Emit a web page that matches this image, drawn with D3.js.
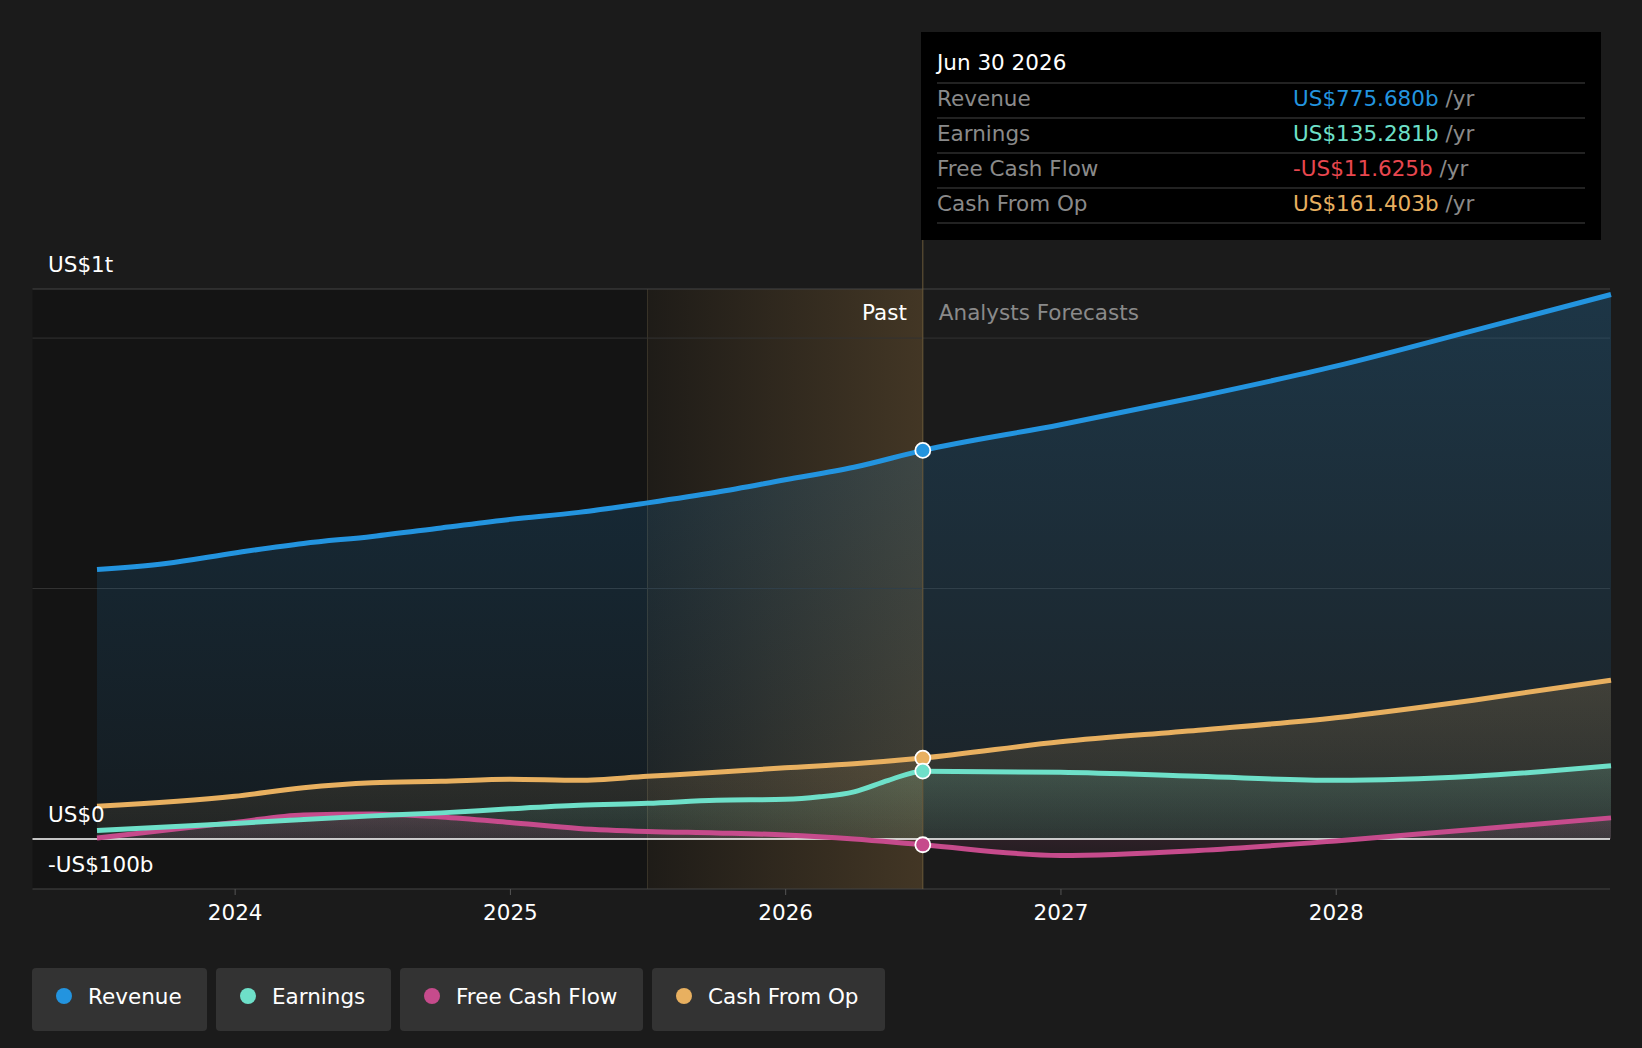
<!DOCTYPE html>
<html><head><meta charset="utf-8">
<script src="https://cdn.jsdelivr.net/npm/d3@7"></script>
<style>body{margin:0;background:#1b1b1b;font-family:"DejaVu Sans",sans-serif}</style>
</head><body><svg id="c" width="1642" height="1048"></svg>
<script>
// values in US$ billions, x as decimal years
const revenue = [[2023.5,538],[2023.75,550],[2024,571],[2024.25,590],[2024.5,604],[2024.75,621],[2025,638],[2025.25,652],[2025.5,671],[2025.75,692],[2026,717],[2026.25,742],[2026.5,775.68],[2027,827],[2027.5,883],[2028,944],[2028.5,1015],[2029,1087]];
const earnings = [[2023.5,17],[2024,31],[2024.5,46],[2024.75,52],[2025,60],[2025.25,67],[2025.5,71],[2025.75,77],[2026,79],[2026.125,84],[2026.25,94],[2026.375,117],[2026.5,135.281],[2027,133],[2027.5,125],[2028,117],[2028.5,125],[2029,146]];
const fcf = [[2023.5,2],[2024,33],[2024.25,48],[2024.5,50],[2024.75,44],[2025,33],[2025.25,21],[2025.5,15],[2025.75,12],[2026,8],[2026.25,0],[2026.5,-11.625],[2027,-33],[2027.5,-23],[2028,-4],[2028.5,19],[2029,42]];
const cfo = [[2023.5,65],[2024,85],[2024.25,102],[2024.5,112],[2024.75,115],[2025,119],[2025.25,117],[2025.5,125],[2025.75,133],[2026,142],[2026.25,150],[2026.5,161.403],[2027,194],[2027.5,217],[2028,242],[2028.5,277],[2029,317]];
const yearTicks = [2024,2025,2026,2027,2028];
const gridValues = [500,1000];
const series = [
  {name:"Revenue", data:revenue, color:"#2394df", tip:"US$775.680b"},
  {name:"Earnings", data:earnings, color:"#6ee0c9", tip:"US$135.281b"},
  {name:"Free Cash Flow", data:fcf, color:"#c64b8c", tip:"-US$11.625b", tipColor:"#e8474f"},
  {name:"Cash From Op", data:cfo, color:"#e8b060", tip:"US$161.403b"}
];
const nowX = 2026.5, bandStart = 2025.5;
const FS = 21.5;

const svg = d3.select("#c");
const x = d3.scaleLinear().domain([2023.5,2029]).range([97,1611]);
const y = d3.scaleLinear().domain([-100,1098]).range([889,289]);
const L = 32.5, R = 1610;

const defs = svg.append("defs");
const bg = defs.append("linearGradient").attr("id","band");
bg.append("stop").attr("offset","0").attr("stop-color","#e8b060").attr("stop-opacity",0.05);
bg.append("stop").attr("offset","1").attr("stop-color","#e8b060").attr("stop-opacity",0.22);
series.forEach((s,i) => {
  const g = defs.append("linearGradient").attr("id","a"+i).attr("x1",0).attr("x2",0).attr("y1",0).attr("y2",1);
  g.append("stop").attr("offset","0").attr("stop-color",s.color).attr("stop-opacity",i==0?0.22:0.18);
  g.append("stop").attr("offset","1").attr("stop-color",s.color).attr("stop-opacity",0.06);
});

// past shading
svg.append("rect").attr("x",L).attr("y",289).attr("width",x(nowX)-L).attr("height",600).attr("fill","#141414");
svg.append("rect").attr("x",x(bandStart)).attr("y",289).attr("width",x(nowX)-x(bandStart)).attr("height",600).attr("fill","url(#band)");
svg.append("line").attr("x1",x(bandStart)).attr("x2",x(bandStart)).attr("y1",289).attr("y2",889).attr("stroke","#3a352a");

// grid
svg.append("line").attr("x1",L).attr("x2",R).attr("y1",289).attr("y2",289).attr("stroke","#444");
gridValues.forEach(v => svg.append("line").attr("x1",L).attr("x2",R).attr("y1",y(v)).attr("y2",y(v)).attr("stroke","#333"));
svg.append("line").attr("x1",L).attr("x2",R).attr("y1",y(-100)).attr("y2",y(-100)).attr("stroke","#444");

const area = d3.area().x(d=>x(d[0])).y0(y(0)).y1(d=>y(d[1])).curve(d3.curveMonotoneX);
const line = d3.line().x(d=>x(d[0])).y(d=>y(d[1])).curve(d3.curveMonotoneX);
series.forEach((s,i) => svg.append("path").attr("d",area(s.data)).attr("fill","url(#a"+i+")"));
svg.append("line").attr("x1",L).attr("x2",R).attr("y1",y(0)).attr("y2",y(0)).attr("stroke","#fff").attr("stroke-width",1.5);
[3,2,1,0].forEach(i => svg.append("path").attr("d",line(series[i].data)).attr("fill","none")
  .attr("stroke",series[i].color).attr("stroke-width",5));

// now line + tooltip
svg.append("line").attr("x1",x(nowX)).attr("x2",x(nowX)).attr("y1",240).attr("y2",889).attr("stroke","#6b5a3a");
[0,3,1,2].forEach(i => {
  const d = series[i].data.find(p=>p[0]===nowX);
  svg.append("circle").attr("cx",x(nowX)).attr("cy",y(d[1])).attr("r",7.5).attr("fill",series[i].color).attr("stroke","#fff").attr("stroke-width",1.8);
});
svg.append("text").attr("x",x(nowX)-16).attr("y",320).attr("text-anchor","end").attr("fill","#fff").attr("font-size",FS).text("Past");
svg.append("text").attr("x",x(nowX)+16).attr("y",320).attr("fill","#8a8a8a").attr("font-size",FS).text("Analysts Forecasts");

const tx = 921;
svg.append("rect").attr("x",tx).attr("y",32).attr("width",680).attr("height",208).attr("fill","#000");
svg.append("text").attr("x",tx+16).attr("y",70).attr("fill","#fff").attr("font-size",FS).text("Jun 30 2026");
series.forEach((s,i) => {
  const yy = 106 + i*35;
  svg.append("line").attr("x1",tx+16).attr("x2",tx+664).attr("y1",yy-23).attr("y2",yy-23).attr("stroke","#444");
  svg.append("text").attr("x",tx+16).attr("y",yy).attr("fill","#8a8a8a").attr("font-size",FS).text(s.name);
  const t = svg.append("text").attr("x",tx+372).attr("y",yy).attr("font-size",FS);
  t.append("tspan").attr("fill",s.tipColor||s.color).text(s.tip);
  t.append("tspan").attr("fill","#8a8a8a").text(" /yr");
});
svg.append("line").attr("x1",tx+16).attr("x2",tx+664).attr("y1",223).attr("y2",223).attr("stroke","#444");

// y labels
svg.append("text").attr("x",48).attr("y",272).attr("fill","#fff").attr("font-size",FS).text("US$1t");
svg.append("text").attr("x",48).attr("y",822).attr("fill","#fff").attr("font-size",FS).text("US$0");
svg.append("text").attr("x",48).attr("y",872).attr("fill","#fff").attr("font-size",FS).text("-US$100b");

// x axis
const xa = svg.append("g").attr("transform","translate(0,889)")
  .call(d3.axisBottom(x).tickValues(yearTicks).tickFormat(d3.format("d")).tickSize(6).tickPadding(10));
xa.select(".domain").remove();
xa.selectAll("line").attr("stroke","#555");
xa.selectAll("text").attr("fill","#fff").attr("font-size",FS).attr("font-family","DejaVu Sans");

// legend
const legW = [175,175,243,233];
let lx = 32;
series.forEach((s,i) => {
  const g = svg.append("g").attr("transform",`translate(${lx},968)`);
  g.append("rect").attr("width",legW[i]).attr("height",63).attr("rx",4).attr("fill","#333");
  g.append("circle").attr("cx",32).attr("cy",28).attr("r",8).attr("fill",s.color);
  g.append("text").attr("x",56).attr("y",36).attr("fill","#fff").attr("font-size",FS).text(s.name);
  lx += legW[i] + 9;
});
</script></body></html>
